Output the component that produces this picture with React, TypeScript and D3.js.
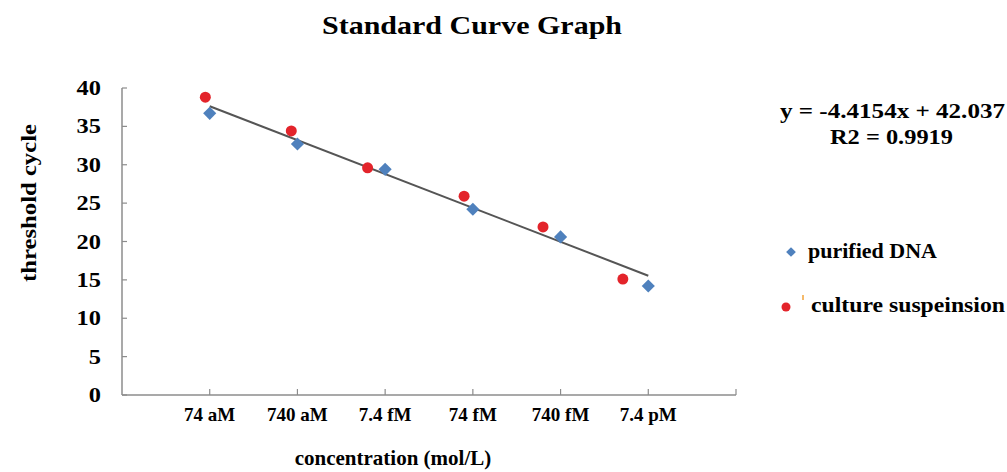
import React, { useEffect, useRef } from "react";
import * as d3 from "d3";

const categories = ["74 aM", "740 aM", "7.4 fM", "74 fM", "740 fM", "7.4 pM"];
const yTicks = [0, 5, 10, 15, 20, 25, 30, 35, 40];

// purified DNA sits on the category positions
const dnaX = [1, 2, 3, 4, 5, 6];
const dnaY = [36.7, 32.7, 29.4, 24.2, 20.6, 14.2];

// culture suspension points are plotted a bit left of each category
const cultureX = [0.95, 1.93, 2.8, 3.9, 4.8, 5.71];
const cultureY = [38.8, 34.4, 29.6, 25.9, 21.9, 15.1];

const slope = -4.4154;
const intercept = 42.037;
const equationText = "y = -4.4154x + 42.037";
const r2Text = "R2 = 0.9919";

const BLUE = "#4f81bd";
const RED = "#e3242b";
const AXIS = "#8c8c8c";
const FONT = "'Liberation Serif', 'Times New Roman', serif";

export default function App() {
  const ref = useRef<SVGSVGElement>(null);

  useEffect(() => {
    const svg = d3.select(ref.current);
    svg.selectAll("*").remove();

    const x = d3.scaleLinear().domain([0, 7]).range([122, 736]);
    const y = d3.scaleLinear().domain([0, 40]).range([395, 88]);

    // title
    svg
      .append("text")
      .attr("x", 472)
      .attr("y", 34)
      .attr("text-anchor", "middle")
      .attr("font-family", FONT)
      .attr("font-weight", "bold")
      .attr("font-size", 26)
      .attr("textLength", 300)
      .attr("lengthAdjust", "spacingAndGlyphs")
      .text("Standard Curve Graph");

    // axes lines
    svg
      .append("line")
      .attr("x1", x(0))
      .attr("x2", x(0))
      .attr("y1", y(0))
      .attr("y2", y(40))
      .attr("stroke", AXIS)
      .attr("stroke-width", 1.5);
    svg
      .append("line")
      .attr("x1", x(0))
      .attr("x2", x(7))
      .attr("y1", y(0))
      .attr("y2", y(0))
      .attr("stroke", AXIS)
      .attr("stroke-width", 1.5);

    // y ticks + labels
    yTicks.forEach((t) => {
      svg
        .append("line")
        .attr("x1", x(0))
        .attr("x2", x(0) + 5)
        .attr("y1", y(t))
        .attr("y2", y(t))
        .attr("stroke", AXIS)
        .attr("stroke-width", 1.2);
      svg
        .append("text")
        .attr("x", 101)
        .attr("y", y(t) + 7)
        .attr("text-anchor", "end")
        .attr("font-family", FONT)
        .attr("font-weight", "bold")
        .attr("font-size", 20)
        .attr("textLength", String(t).length * 12.2)
        .attr("lengthAdjust", "spacingAndGlyphs")
        .text(t);
    });

    // x ticks + category labels
    d3.range(1, 8).forEach((i) => {
      svg
        .append("line")
        .attr("x1", x(i))
        .attr("x2", x(i))
        .attr("y1", y(0))
        .attr("y2", y(0) - 6)
        .attr("stroke", AXIS)
        .attr("stroke-width", 1.2);
    });
    categories.forEach((c, i) => {
      svg
        .append("text")
        .attr("x", x(i + 1))
        .attr("y", 421)
        .attr("text-anchor", "middle")
        .attr("font-family", FONT)
        .attr("font-weight", "bold")
        .attr("font-size", 19)
        .text(c);
    });

    // axis titles
    svg
      .append("text")
      .attr("x", 393)
      .attr("y", 465)
      .attr("text-anchor", "middle")
      .attr("font-family", FONT)
      .attr("font-weight", "bold")
      .attr("font-size", 21)
      .text("concentration (mol/L)");
    svg
      .append("text")
      .attr("transform", "translate(36,203) rotate(-90)")
      .attr("text-anchor", "middle")
      .attr("font-family", FONT)
      .attr("font-weight", "bold")
      .attr("font-size", 22)
      .attr("textLength", 158)
      .attr("lengthAdjust", "spacingAndGlyphs")
      .text("threshold cycle");

    // trend line
    const line = d3
      .line<number>()
      .x((d) => x(d))
      .y((d) => y(slope * d + intercept));
    svg
      .append("path")
      .attr("d", line([1, 6]))
      .attr("fill", "none")
      .attr("stroke", "#555")
      .attr("stroke-width", 2);

    // culture suspension points
    svg
      .append("g")
      .selectAll("circle")
      .data(cultureX)
      .join("circle")
      .attr("cx", (d) => x(d))
      .attr("cy", (d, i) => y(cultureY[i]))
      .attr("r", 5.5)
      .attr("fill", RED);

    // purified DNA diamonds
    const diamond = d3.symbol(d3.symbolDiamond2, 110);
    svg
      .append("g")
      .selectAll("path")
      .data(dnaX)
      .join("path")
      .attr("d", diamond)
      .attr("transform", (d, i) => `translate(${x(d)},${y(dnaY[i])})`)
      .attr("fill", BLUE);

    // regression equation
    svg
      .append("text")
      .attr("x", 780)
      .attr("y", 118)
      .attr("font-family", FONT)
      .attr("font-weight", "bold")
      .attr("font-size", 20)
      .attr("textLength", 225)
      .attr("lengthAdjust", "spacingAndGlyphs")
      .text(equationText);
    svg
      .append("text")
      .attr("x", 830)
      .attr("y", 144)
      .attr("font-family", FONT)
      .attr("font-weight", "bold")
      .attr("font-size", 20)
      .attr("textLength", 123)
      .attr("lengthAdjust", "spacingAndGlyphs")
      .text(r2Text);

    // legend
    svg
      .append("path")
      .attr("d", d3.symbol(d3.symbolDiamond2, 60)())
      .attr("transform", "translate(791,252)")
      .attr("fill", BLUE);
    svg
      .append("text")
      .attr("x", 808)
      .attr("y", 258)
      .attr("font-family", FONT)
      .attr("font-weight", "bold")
      .attr("font-size", 20)
      .attr("textLength", 129)
      .attr("lengthAdjust", "spacingAndGlyphs")
      .text("purified DNA");

    svg
      .append("circle")
      .attr("cx", 786)
      .attr("cy", 307)
      .attr("r", 4.5)
      .attr("fill", RED);
    svg
      .append("line")
      .attr("x1", 803)
      .attr("x2", 803)
      .attr("y1", 295)
      .attr("y2", 300)
      .attr("stroke", "#f2a33a")
      .attr("stroke-width", 1.5);
    svg
      .append("text")
      .attr("x", 811)
      .attr("y", 312)
      .attr("font-family", FONT)
      .attr("font-weight", "bold")
      .attr("font-size", 20)
      .attr("textLength", 194)
      .attr("lengthAdjust", "spacingAndGlyphs")
      .text("culture suspeinsion");
  }, []);

  return (
    <svg
      ref={ref}
      width={1007}
      height={472}
      style={{ position: "absolute", left: 0, top: 0, background: "#fff" }}
    />
  );
}
